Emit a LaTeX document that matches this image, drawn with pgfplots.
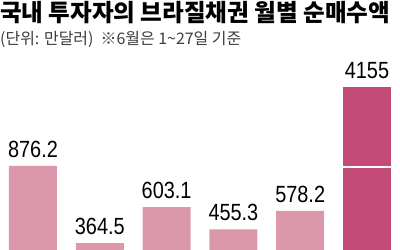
\documentclass[border=0pt]{standalone}
\usepackage{pgfplots}
\pgfplotsset{compat=1.18}
\usepackage{fontspec}
\setmainfont{Liberation Sans}
\newfontfamily\krfont{Noto Sans CJK KR}
\newfontfamily\krtitle[FakeStretch=0.985]{Noto Sans CJK KR}
\newfontfamily\numfont[FakeStretch=0.85]{Liberation Sans}
\definecolor{lightbar}{RGB}{219,152,170}
\definecolor{darkbar}{RGB}{196,74,120}
\definecolor{subgrey}{RGB}{60,60,60}
\begin{document}
\begin{tikzpicture}
\useasboundingbox (0,0) rectangle (400bp,250bp);
\begin{axis}[
  at={(0,0)}, anchor=south west,
  width=400bp, height=250bp, scale only axis,
  xmin=-0.494, xmax=5.494, ymin=318, ymax=1979,
  axis lines=none, ticks=none,
  clip=true,
  ybar, bar width=48bp, bar shift=0pt,
  nodes near coords,
  point meta=explicit symbolic,
  every node near coord/.append style={font=\numfont\fontsize{23.5}{24}\selectfont, anchor=south, inner sep=0pt, yshift=8bp, black},
]
\addplot[fill=lightbar, draw=none] coordinates {
  (0,876.2) [876.2]
  (1,364.5) [364.5]
  (2,603.1) [603.1]
  (3,455.3) [455.3]
  (4,578.2) [578.2]
};
\addplot[fill=darkbar, draw=none] coordinates {
  (5,1401) [4155]
};
\draw[white, line width=2bp] (axis cs:4.5,870) -- (axis cs:5.5,870);
\node[anchor=north west, inner sep=0pt, font=\krtitle\bfseries\fontsize{24}{25}\selectfont] at ([yshift=-1bp]rel axis cs:0,1) {국내 투자자의 브라질채권 월별 순매수액};
\node[anchor=north west, inner sep=0pt, font=\krfont\fontsize{16}{17}\selectfont, text=subgrey] at ([yshift=-31bp]rel axis cs:0,1) {(단위: 만달러) \ ※6월은 1\textasciitilde27일 기준};
\end{axis}
\end{tikzpicture}
\end{document}
